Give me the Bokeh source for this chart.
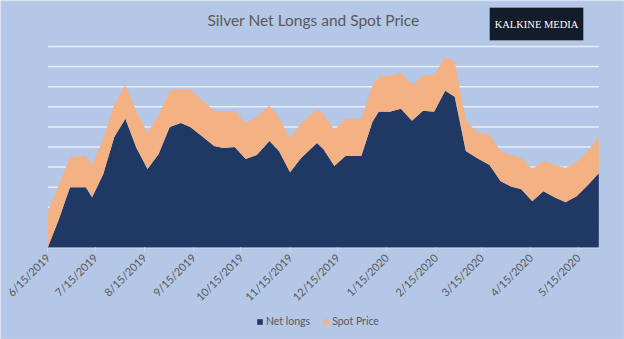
import math
import pandas as pd
from bokeh.plotting import figure
from bokeh.models import (Range1d, FixedTicker, Label, BoxAnnotation, Legend,
                          LegendItem, ColumnDataSource)
from bokeh.embed import file_html
from bokeh.resources import INLINE

# ---- data (y in gridline units) ----
dates = [
    "2019-06-15", "2019-06-22", "2019-06-29", "2019-07-09", "2019-07-13",
    "2019-07-20", "2019-07-27", "2019-08-03", "2019-08-10", "2019-08-17",
    "2019-08-24", "2019-08-31", "2019-09-07", "2019-09-13", "2019-09-21",
    "2019-09-28", "2019-10-04", "2019-10-11", "2019-10-18", "2019-10-25",
    "2019-11-02", "2019-11-08", "2019-11-15", "2019-11-22", "2019-12-02",
    "2019-12-06", "2019-12-13", "2019-12-20", "2019-12-30", "2020-01-06",
    "2020-01-10", "2020-01-17", "2020-01-24", "2020-01-31", "2020-02-07",
    "2020-02-14", "2020-02-21", "2020-02-27", "2020-03-05", "2020-03-12",
    "2020-03-20", "2020-03-27", "2020-04-02", "2020-04-09", "2020-04-16",
    "2020-04-23", "2020-04-30", "2020-05-07", "2020-05-14", "2020-05-21",
    "2020-05-28",
]
net_longs = [
    0.0, 1.4, 3.0, 3.0, 2.5, 3.65, 5.5, 6.4, 4.95, 3.9,
    4.65, 6.0, 6.2, 6.0, 5.5, 5.05, 4.95, 5.0, 4.4, 4.6,
    5.3, 4.8, 3.75, 4.45, 5.2, 4.9, 4.05, 4.55, 4.55, 6.25,
    6.75, 6.75, 6.9, 6.3, 6.8, 6.75, 7.8, 7.5, 4.8, 4.45,
    4.1, 3.3, 3.05, 2.9, 2.3, 2.8, 2.5, 2.25, 2.55, 3.1,
    3.7,
]
spot_price = [
    1.8, 1.7, 1.5, 1.55, 1.6, 1.75, 1.6, 1.7, 1.8, 1.8,
    1.95, 1.8, 1.7, 1.85, 1.8, 1.75, 1.8, 1.8, 1.8, 1.9,
    1.75, 1.65, 1.7, 1.75, 1.65, 1.75, 1.8, 1.85, 1.85, 1.8,
    1.75, 1.8, 1.8, 1.8, 1.75, 1.85, 1.65, 1.75, 1.5, 1.3,
    1.5, 1.5, 1.55, 1.55, 1.6, 1.5, 1.6, 1.7, 1.7, 1.7,
    1.8,
]
tick_dates = [
    "2019-06-15", "2019-07-15", "2019-08-15", "2019-09-15", "2019-10-15",
    "2019-11-15", "2019-12-15", "2020-01-15", "2020-02-15", "2020-03-15",
    "2020-04-15", "2020-05-15",
]
tick_labels = [
    "6/15/2019", "7/15/2019", "8/15/2019", "9/15/2019", "10/15/2019",
    "11/15/2019", "12/15/2019", "1/15/2020", "2/15/2020", "3/15/2020",
    "4/15/2020", "5/15/2020",
]
grid_levels = list(range(0, 11))
series_names = ["Net longs", "Spot Price"]
title_text = "Silver Net Longs and Spot Price"
logo_text = "KALKINE MEDIA"

# ---- styles / layout ----
BG = "#B4C7E7"
NAVY = "#1F3864"
ORANGE = "#F4B183"
GREY = "#595959"
GRID = "#E8EDF6"
FONT = "Lato"
W, H = 624, 339
PLOT_L, PLOT_R = 47.3, 598.3     # pixel columns of first / last date
PLOT_TOP, PLOT_BASE = 46, 247    # pixel rows of top gridline / baseline

start = pd.Timestamp(dates[0])
days = [(pd.Timestamp(d) - start).days for d in dates]
tick_days = [(pd.Timestamp(d) - start).days for d in tick_dates]

px_day = (PLOT_R - PLOT_L) / (days[-1] - days[0])
px_unit = (PLOT_BASE - PLOT_TOP) / grid_levels[-1]
x_range = Range1d(days[0] - PLOT_L / px_day, days[-1] + (W - PLOT_R) / px_day)
y_range = Range1d(-(H - PLOT_BASE) / px_unit, PLOT_BASE / px_unit)

source = ColumnDataSource(dict(x=days, net=net_longs, spot=spot_price))
grid_src = ColumnDataSource(dict(x0=[days[0]] * len(grid_levels),
                                 x1=[days[-1]] * len(grid_levels),
                                 y=grid_levels))

p = figure(width=W, height=H, output_backend="svg", toolbar_location=None,
           x_range=x_range, y_range=y_range, min_border=0,
           background_fill_color=BG, border_fill_color=BG,
           outline_line_color=None)
p.grid.visible = False
p.yaxis.visible = False

# horizontal gridlines spanning the plotted dates
p.segment(x0="x0", x1="x1", y0="y", y1="y", source=grid_src,
          line_color=GRID, line_width=1.5, level="underlay")

rs = p.varea_stack(["net", "spot"], x="x", color=[NAVY, ORANGE], source=source)

ax = p.xaxis[0]
ax.fixed_location = 0
ax.ticker = FixedTicker(ticks=tick_days)
ax.major_label_overrides = {d: lab for d, lab in zip(tick_days, tick_labels)}
ax.major_label_orientation = math.pi / 4
ax.major_label_text_font = FONT
ax.major_label_text_font_size = "11px"
ax.major_label_text_color = GREY
ax.major_label_standoff = 4
ax.axis_line_color = None
ax.major_tick_line_color = "#D0D8E6"
ax.major_tick_out = 4
ax.major_tick_in = 0
ax.minor_tick_line_color = None

# title, logo and outer border in frame pixels (origin = bottom-left)
def sy(cy):
    return H - cy

p.add_layout(Label(x=313, y=sy(19), x_units="screen", y_units="screen",
                   text=title_text, text_align="center", text_baseline="middle",
                   text_font=FONT, text_font_size="15.5px", text_color=GREY))
p.add_layout(BoxAnnotation(left=489, right=583, top=sy(7), bottom=sy(40),
                           left_units="screen", right_units="screen",
                           top_units="screen", bottom_units="screen",
                           fill_color="#131C2A", fill_alpha=1.0,
                           line_color="#C9D0DB", line_width=1))
p.add_layout(Label(x=536, y=sy(23.5), x_units="screen", y_units="screen",
                   text=logo_text, text_align="center", text_baseline="middle",
                   text_font="Liberation Serif", text_font_size="10.5px",
                   text_color="white"))
p.add_layout(BoxAnnotation(left=0.5, right=W - 0.5, top=H - 0.5, bottom=0.5,
                           left_units="screen", right_units="screen",
                           top_units="screen", bottom_units="screen",
                           fill_alpha=0, line_color="#D9D9D9", line_width=1))

legend = Legend(items=[LegendItem(label=series_names[0], renderers=[rs[0]]),
                       LegendItem(label=series_names[1], renderers=[rs[1]])],
                location=(256, 11), orientation="horizontal",
                background_fill_alpha=0, border_line_color=None,
                padding=0, margin=0, spacing=12, label_standoff=3,
                glyph_width=7, glyph_height=7, label_height=14,
                label_text_font=FONT, label_text_font_size="10.5px",
                label_text_color=GREY)
p.add_layout(legend)

open("out.html", "w").write(file_html(p, INLINE))
